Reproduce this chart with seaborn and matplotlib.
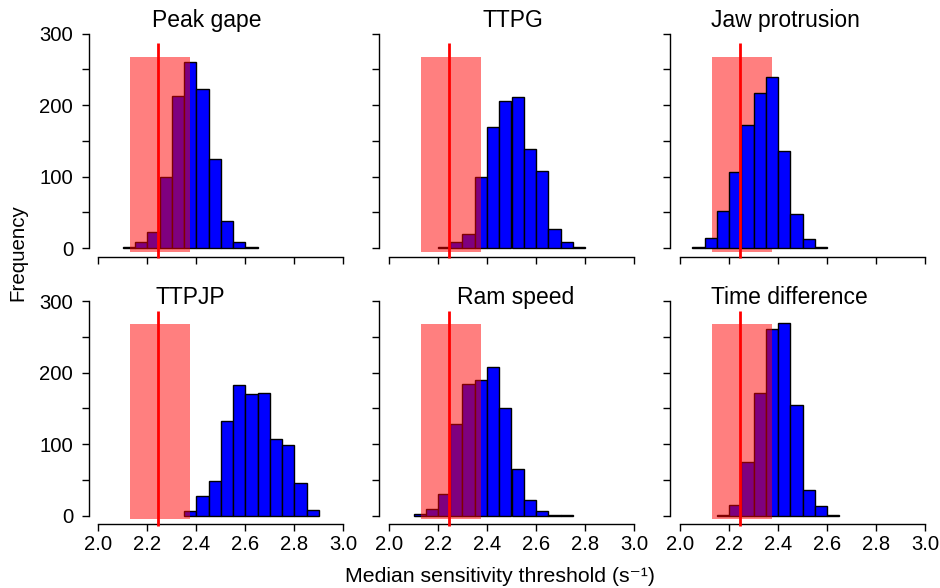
import numpy as np
import pandas as pd
import matplotlib
matplotlib.use("Agg")
import matplotlib.pyplot as plt
import seaborn as sns

# ---- data ----
titles = ["Peak gape", "TTPG", "Jaw protrusion", "TTPJP", "Ram speed", "Time difference"]
bin_width = 0.05
starts = [2.10, 2.20, 2.05, 2.35, 2.10, 2.15]
counts_peak_gape = [1, 8, 22, 100, 213, 261, 223, 125, 38, 8, 1]
counts_ttpg = [1, 9, 20, 99, 170, 206, 212, 139, 108, 27, 8, 1]
counts_jaw = [1, 14, 52, 107, 172, 217, 239, 136, 48, 13, 1]
counts_ttpjp = [7, 28, 48, 132, 183, 170, 172, 107, 99, 46, 8]
counts_ram = [2, 9, 31, 128, 184, 190, 208, 151, 65, 22, 7, 1, 1]
counts_timediff = [1, 15, 75, 172, 261, 270, 155, 36, 14, 1]
all_counts = [counts_peak_gape, counts_ttpg, counts_jaw, counts_ttpjp, counts_ram, counts_timediff]
rect_on_top = [True, True, False, True, True, True]
observed_median = 2.245
ci_low, ci_high = 2.13, 2.375
ci_height = 268
x_ticks = [2.0, 2.2, 2.4, 2.6, 2.8, 3.0]
y_ticks = [0, 50, 100, 150, 200, 250, 300]
y_ticklabels = ["0", "", "100", "", "200", "", "300"]
title_x = [2.444, 2.506, 2.43, 2.374, 2.518, 2.445]

sns.set_style("white")
plt.rcParams['font.family'] = ['Liberation Sans', 'DejaVu Sans']
plt.rcParams['text.color'] = 'black'
plt.rcParams['xtick.color'] = 'black'
plt.rcParams['ytick.color'] = 'black'
plt.rcParams['xtick.labelcolor'] = 'black'
plt.rcParams['ytick.labelcolor'] = 'black'

W, H = 940, 588
fig = plt.figure(figsize=(9.4, 5.88), dpi=100)

lefts = [88.5, 379.2, 670.2]
bottoms = [256.7, 524.3]
aw, ah = 264.6, 231.6

for i, (title, counts) in enumerate(zip(titles, all_counts)):
    r, c = divmod(i, 3)
    ax = fig.add_axes([lefts[c] / W, 1 - bottoms[r] / H, aw / W, ah / H])
    edges = [round(starts[i] + bin_width * k, 4) for k in range(len(counts) + 1)]
    centers = [(edges[k] + edges[k + 1]) / 2 for k in range(len(counts))]
    df = pd.DataFrame({"x": centers, "w": counts})
    bar_z = 1 if rect_on_top[i] else 3
    sns.histplot(data=df, x="x", weights="w", bins=edges, ax=ax,
                 color="#0000FF", alpha=1, edgecolor="black", linewidth=1.0)
    for p in ax.patches:
        p.set_zorder(bar_z)
    ax.add_patch(plt.Rectangle((ci_low, -5), ci_high - ci_low, ci_height + 5,
                               facecolor="red", alpha=0.5, edgecolor="none",
                               zorder=2, clip_on=False))
    ax.plot([observed_median, observed_median], [-14, 287], color="red",
            lw=2, zorder=4, clip_on=False, solid_capstyle="butt")
    ax.set_xlim(1.96, 3.04)
    ax.set_ylim(-12, 312)
    for s in ["top", "right"]:
        ax.spines[s].set_visible(False)
    ax.spines["left"].set_bounds(0, 300)
    ax.spines["bottom"].set_bounds(2.0, 3.0)
    for s in ["left", "bottom"]:
        ax.spines[s].set_color("black")
        ax.spines[s].set_linewidth(1.0)
    ax.set_xticks(x_ticks)
    ax.set_yticks(y_ticks)
    ax.tick_params(axis="both", direction="out", length=5, width=1.0,
                   color="black", labelcolor="black", labelsize=14.6, pad=3,
                   left=True, bottom=True)
    ax.tick_params(axis="y", pad=6)
    if r == 1:
        ax.set_xticklabels([f"{t:.1f}" for t in x_ticks])
    else:
        ax.set_xticklabels([])
    if c == 0:
        ax.set_yticklabels(y_ticklabels)
    else:
        ax.set_yticklabels([])
    ax.set_xlabel("")
    ax.set_ylabel("")
    ty = 318.6 if r == 0 else 305
    ax.text(title_x[i], ty, title, ha="center", va="center", fontsize=16.5,
            color="black", clip_on=False)

fig.text(18 / W, 1 - 252.5 / H, "Frequency", rotation=90, ha="center",
         va="center", fontsize=14.8, color="black")
fig.text(500 / W, 1 - 577 / H, "Median sensitivity threshold (s\u207b\u00b9)",
         ha="center", va="center", fontsize=15.3, color="black")

fig.savefig("out.png", dpi=100)
